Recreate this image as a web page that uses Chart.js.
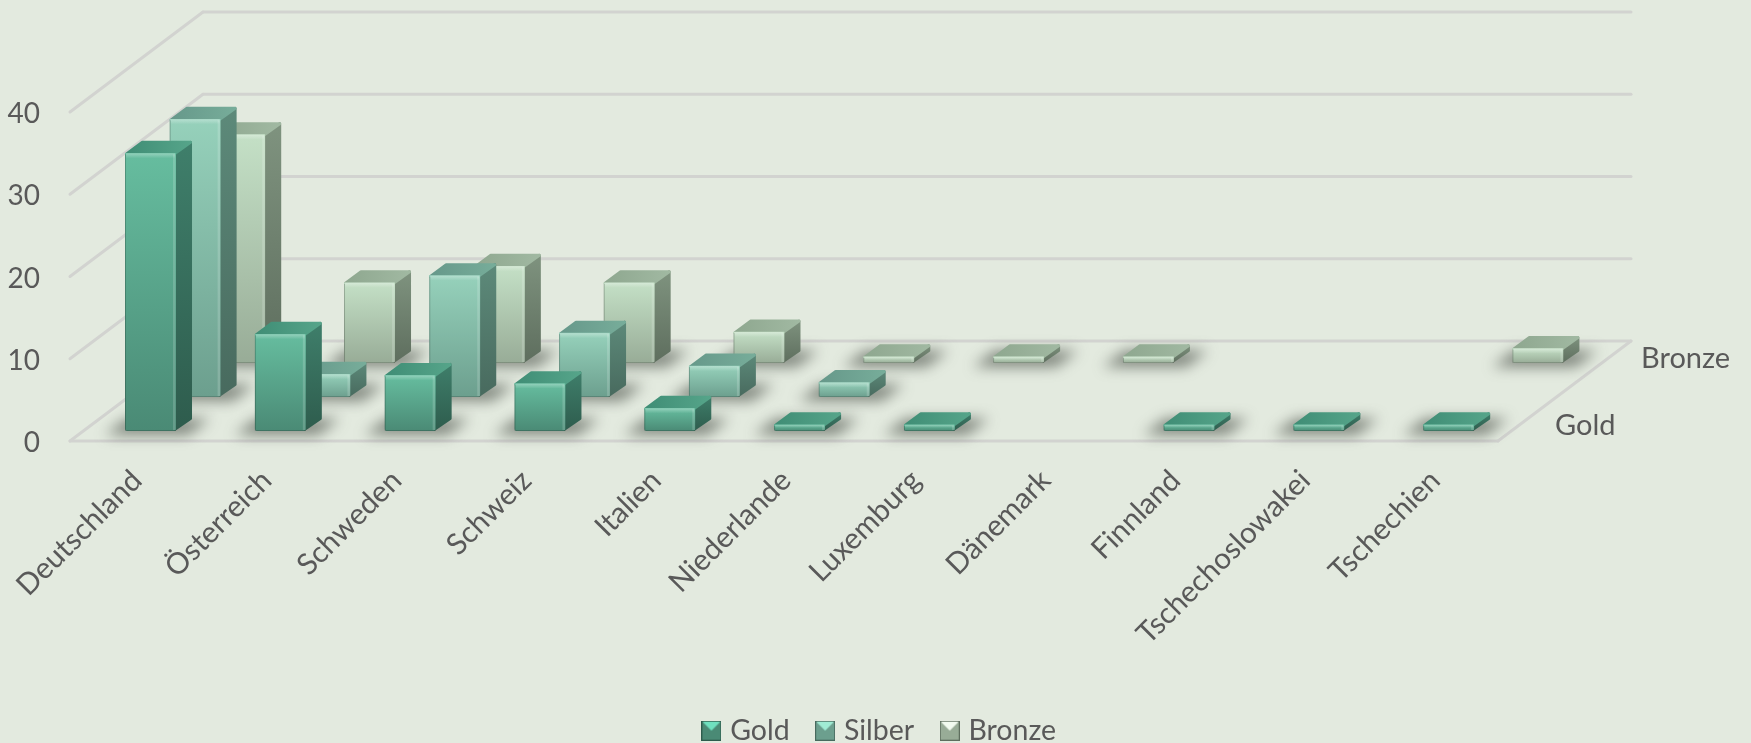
<!DOCTYPE html>
<html><head><meta charset="utf-8">
<style>html,body{margin:0;padding:0;background:#e3eadf}#w{width:1751px;height:743px;position:relative}</style>
<script src="https://cdn.jsdelivr.net/npm/chart.js@4"></script>
</head><body><div id="w"><canvas id="c"></canvas></div>
<script>
const categories=['Deutschland','Österreich','Schweden','Schweiz','Italien','Niederlande','Luxemburg','Dänemark','Finnland','Tschechoslowakei','Tschechien'];
const gold=[34,12,7,6,3,1,1,null,1,1,1];
const silber=[34,3,15,8,4,2,null,null,null,null,null];
const bronze=[28,10,12,10,4,1,1,1,null,null,2];
const yTicks=[0,10,20,30,40];

const FONT='Lato';
const FS=29;
const X_FS=29.5;
const LEG_FS=28.5;
const LEG_PAD=31;
const TXT='#595959';
// depth geometry of the oblique projection
const FLOOR_DX=133, FLOOR_DY=100;
const ROW_DX=44.6, ROW_DY=34, ROW0_DX=15.6, ROW0_DY=10;
const BAR_DX=16, BAR_DY=12.5, TOP_INSET=2;
const GRID='#d2d3d0';

const palette=[
 {front:['#66bd9f','#4a8a75'],top:['#3f8d75','#56a58a'],side:['#3f7f6b','#2e5c4d']},
 {front:['#96d1bb','#6c9f8e'],top:['#66988a','#77ad9a'],side:['#5d8a7a','#486a5e']},
 {front:['#c4e0c6','#98ac97'],top:['#8ea78f','#a1b9a2'],side:['#7f937f','#5e6e5e']}
];
const rowOffset=i=>({x:ROW0_DX+ROW_DX*i,y:-(ROW0_DY+ROW_DY*i)});

function grad(ctx,x0,y0,x1,y1,c){const g=ctx.createLinearGradient(x0,y0,x1,y1);g.addColorStop(0,c[0]);g.addColorStop(1,c[1]);return g;}

function frontFill(c,i){
  const chart=c.chart;
  if(!chart.chartArea||c.raw===undefined||c.raw===null)return palette[i].front[0];
  const y=chart.scales.y;
  return grad(chart.ctx,0,y.getPixelForValue(c.raw)+TOP_INSET,0,y.getPixelForValue(0),palette[i].front);
}

const scene={
  id:'scene',
  afterLayout(chart){
    const lg=chart.legend;
    lg.left=6;lg.right=chart.width+6;
    lg.top=733.5-LEG_PAD-LEG_FS*0.6;
  },
  beforeDatasetsDraw(chart){
    const ctx=chart.ctx,a=chart.chartArea,y=chart.scales.y;
    ctx.save();
    ctx.lineCap='round';
    const line=(x0,y0,x1,y1)=>{
      ctx.beginPath();ctx.moveTo(x0,y0);ctx.lineTo(x1,y1);
      ctx.strokeStyle=GRID;ctx.lineWidth=3;ctx.stroke();
    };
    yTicks.forEach(v=>{
      const p=y.getPixelForValue(v);
      line(a.left,p,a.left+FLOOR_DX,p-FLOOR_DY);
      line(a.left+FLOOR_DX,p-FLOOR_DY,a.right+FLOOR_DX,p-FLOOR_DY);
    });
    const p0=y.getPixelForValue(0);
    line(a.left,p0,a.right,p0);
    line(a.right,p0,a.right+FLOOR_DX,p0-FLOOR_DY);
    // floor shadows
    ctx.filter='blur(7px)';
    ctx.fillStyle='rgba(66,72,64,0.62)';
    chart.data.datasets.forEach((ds,i)=>{
      const o=rowOffset(i),m=chart.getDatasetMeta(i);
      m.data.forEach((el,k)=>{
        if(!ds.data[k])return;
        const l=el.x-el.width/2+o.x,r=el.x+el.width/2+o.x,b=el.base+o.y;
        ctx.beginPath();
        ctx.moveTo(l-20,b+4);
        ctx.lineTo(r+12,b+4);
        ctx.lineTo(r+BAR_DX+18,b-BAR_DY);
        ctx.lineTo(l+BAR_DX-14,b-BAR_DY);
        ctx.closePath();ctx.fill();
      });
    });
    ctx.restore();
  },
  beforeDatasetDraw(chart,args){
    const ctx=chart.ctx,i=args.index,o=rowOffset(i),pal=palette[i];
    ctx.save();
    ctx.translate(o.x,o.y);
    const vals=chart.data.datasets[i].data;
    args.meta.data.forEach((el,k)=>{
      if(!vals[k])return;
      const l=el.x-el.width/2,r=el.x+el.width/2,t=el.y+TOP_INSET,b=el.base;
      ctx.lineJoin='round';ctx.lineWidth=3;
      let f=grad(ctx,0,t-BAR_DY,0,b,pal.side);
      ctx.fillStyle=f;ctx.strokeStyle=f;
      ctx.beginPath();ctx.moveTo(r-1.5,t+1);ctx.lineTo(r+BAR_DX-1.5,t-BAR_DY+1.5);ctx.lineTo(r+BAR_DX-1.5,b-BAR_DY);ctx.lineTo(r-1.5,b-1.5);ctx.closePath();ctx.fill();ctx.stroke();
      f=grad(ctx,l,0,r+BAR_DX,0,pal.top);
      ctx.fillStyle=f;ctx.strokeStyle=f;
      ctx.beginPath();ctx.moveTo(l+1.5,t+.5);ctx.lineTo(l+BAR_DX+1,t-BAR_DY+1.5);ctx.lineTo(r+BAR_DX-1.5,t-BAR_DY+1.5);ctx.lineTo(r-1.5,t+.5);ctx.closePath();ctx.fill();ctx.stroke();
    });
  },
  afterDatasetDraw(chart,args){
    const ctx=chart.ctx,i=args.index;
    const vals=chart.data.datasets[i].data;
    args.meta.data.forEach((el,k)=>{
      if(!vals[k])return;
      const l=el.x-el.width/2,r=el.x+el.width/2,t=el.y+TOP_INSET,b=el.base;
      const h=Math.min(5,(b-t)/2);
      const g=ctx.createLinearGradient(0,t,0,t+h);
      g.addColorStop(0,'rgba(255,255,255,0.30)');g.addColorStop(1,'rgba(255,255,255,0)');
      ctx.fillStyle=g;ctx.fillRect(l+1,t,r-l-2,h);
      ctx.fillStyle='rgba(255,255,255,0.16)';ctx.fillRect(r-3,t+1,2.5,b-t-2);
      ctx.fillStyle='rgba(0,0,0,0.22)';ctx.fillRect(l,t+1,1,b-t-2);
      ctx.fillStyle='rgba(0,0,0,0.16)';ctx.fillRect(l,b-1,r-l,1);
    });
    ctx.restore();
  },
  afterDatasetsDraw(chart){
    const ctx=chart.ctx,a=chart.chartArea,y=chart.scales.y;
    const ds=chart.data.datasets,p0=y.getPixelForValue(0);
    ctx.save();
    ctx.font=FS+'px '+FONT;ctx.fillStyle=TXT;ctx.textAlign='left';ctx.textBaseline='middle';
    ctx.fillText(ds[0].label,a.right+57,p0-15);
    ctx.fillText(ds[2].label,a.right+143,p0-82);
    ctx.restore();
  }
};

function marker(i){
  const s=20,c=document.createElement('canvas');c.width=s;c.height=s;
  const x=c.getContext('2d'),p=palette[i];
  x.fillStyle=p.side[1];x.fillRect(0,0,s,s);
  const tri=(pts,fill)=>{x.beginPath();pts.forEach((q,n)=>n?x.lineTo(q[0],q[1]):x.moveTo(q[0],q[1]));x.closePath();x.fillStyle=fill;x.fill();};
  x.fillStyle=p.front[1];x.fillRect(1,2,s-2,s-3);
  tri([[1,1],[s-1,1],[s/2,s/2]],['#6fe0bf','#a0ecd4','#f2fbf0'][i]);
  return c;
}

Chart.defaults.font.family=FONT;
Chart.defaults.font.size=FS;
Chart.defaults.color=TXT;

const mk=(label,data,i)=>({label,data,clip:false,borderWidth:{top:TOP_INSET,left:0,right:0,bottom:0},borderColor:'rgba(0,0,0,0)',borderRadius:2,borderSkipped:false,
  barThickness:51,backgroundColor:c=>frontFill(c,i)});

new Chart(document.getElementById('c'),{
  type:'bar',
  data:{labels:categories,datasets:[mk('Gold',gold,0),mk('Silber',silber,1),mk('Bronze',bronze,2)]},
  plugins:[scene],
  options:{
    responsive:true,maintainAspectRatio:false,animation:false,
    layout:{autoPadding:false,padding:{top:112,right:253,left:0,bottom:2}},
    datasets:{bar:{grouped:false}},
    scales:{
      x:{grid:{display:false},border:{display:false},
        ticks:{minRotation:45,maxRotation:45,autoSkip:false,padding:14,labelOffset:2,font:{family:FONT,size:X_FS},color:TXT},
        afterFit(s){s.height=300-(s.chart.legend?s.chart.legend.height:0);}},
      y:{min:0,max:40,grid:{display:false},border:{display:false},
        afterBuildTicks(s){s.ticks=yTicks.map(v=>({value:v}));},
        ticks:{padding:22,labelOffset:2,font:{family:FONT,size:28},color:TXT},
        afterFit(s){s.width=70;}}
    },
    plugins:{
      tooltip:{enabled:false},
      legend:{position:'bottom',labels:{usePointStyle:true,pointStyleWidth:9,boxHeight:12,padding:LEG_PAD,
        font:{family:FONT,size:LEG_FS},color:TXT,
        generateLabels(ch){return Chart.defaults.plugins.legend.labels.generateLabels(ch).map((l,i)=>Object.assign(l,{pointStyle:marker(i)}));}}}
    }
  }
});
</script></body></html>
